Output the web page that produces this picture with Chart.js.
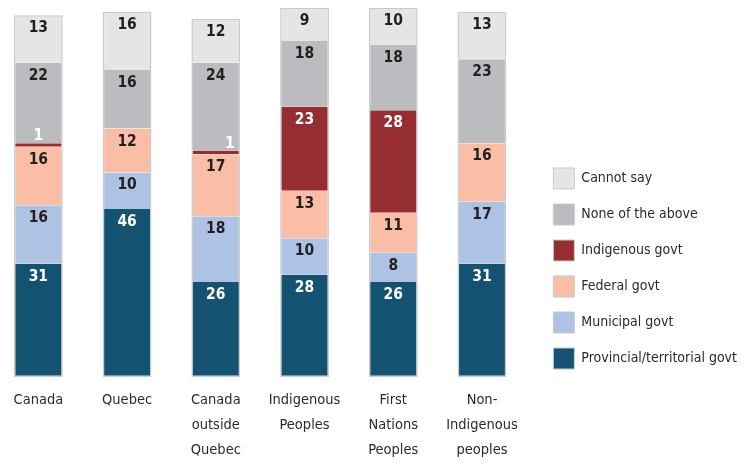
<!DOCTYPE html>
<html>
<head>
<meta charset="utf-8">
<script src="https://cdn.jsdelivr.net/npm/chart.js@4/dist/chart.umd.min.js"></script>
<style>
  html, body { margin: 0; padding: 0; background: #fff; overflow: hidden; }
  /* canvas starts a few px left of the page so the first bar sits near the edge */
  #wrap { width: 753px; height: 464px; position: absolute; left: -6px; top: 0; }
</style>
</head>
<body>
<div id="wrap"><canvas id="chart"></canvas></div>
<script>
// Categories (multi-line tick labels)
const categories = [
  ['Canada'],
  ['Quebec'],
  ['Canada', 'outside', 'Quebec'],
  ['Indigenous', 'Peoples'],
  ['First', 'Nations', 'Peoples'],
  ['Non-', 'Indigenous', 'peoples']
];

// Series values (%), bottom to top of each stack
const provincial = [31, 46, 26, 28, 26, 31];
const municipal  = [16, 10, 18, 10, 8, 17];
const federal    = [16, 12, 17, 13, 11, 16];
const indigenous = [1, 0, 1, 23, 28, 0];
const noneAbove  = [22, 16, 24, 18, 18, 23];
const cannotSay  = [13, 16, 12, 9, 10, 13];

const FONT = '"DejaVu Sans Condensed", "DejaVu Sans", sans-serif';
const EDGE = '#c9cacc';
const LEGEND_SIZE = 14;

// Work out how wide the legend text is so the legend sits where it should
const probe = document.createElement('canvas').getContext('2d');
probe.font = LEGEND_SIZE + 'px ' + FONT;
const longest = probe.measureText('Provincial/territorial govt').width;
const legendWidth = 15 + 21 + LEGEND_SIZE / 2 + longest + 10;

function series(label, data, color, extra) {
  return Object.assign({
    label: label,
    data: data,
    backgroundColor: color,
    borderColor: EDGE,
    borderWidth: { left: 1.5, right: 1.5, top: 0, bottom: 0 },
    borderSkipped: false,
    barPercentage: 0.55,
    categoryPercentage: 1
  }, extra || {});
}

const datasets = [
  series('Provincial/territorial govt', provincial, '#135270', { borderWidth: { left: 1.5, right: 1.5, top: 0, bottom: 1.5 } }),
  series('Municipal govt', municipal, '#aec3e3'),
  series('Federal govt', federal, '#f9bea5'),
  series('Indigenous govt', indigenous, '#962d33'),
  series('None of the above', noneAbove, '#bbbcbf'),
  series('Cannot say', cannotSay, '#e4e5e7', { borderWidth: { left: 1.5, right: 1.5, top: 1.5, bottom: 0 } })
];

// White labels on the dark segments
const lightText = ['Provincial/territorial govt', 'Indigenous govt'];

// Values drawn near the top of every segment
const segmentLabels = {
  id: 'segmentLabels',
  afterDatasetsDraw(chart) {
    const ctx = chart.ctx;
    ctx.save();
    ctx.font = 'bold 15.5px ' + FONT;
    ctx.textAlign = 'center';
    ctx.textBaseline = 'middle';
    chart.data.datasets.forEach((ds, i) => {
      const meta = chart.getDatasetMeta(i);
      meta.data.forEach((bar, j) => {
        const v = ds.data[j];
        if (!v) return;
        const p = bar.getProps(['x', 'y', 'base'], true);
        const top = Math.min(p.y, p.base);
        if (v < 3) {
          // thin slice: the number sits just above it
          ctx.fillStyle = '#ffffff';
          ctx.fillText(String(v), p.x + (j === 2 ? 14 : 0), top - 7);
        } else {
          ctx.fillStyle = lightText.includes(ds.label) ? '#ffffff' : '#231f20';
          ctx.fillText(String(v), p.x, top + 13);
        }
      });
    });
    ctx.restore();
  }
};

new Chart(document.getElementById('chart'), {
  type: 'bar',
  data: { labels: categories, datasets: datasets },
  plugins: [segmentLabels],
  options: {
    responsive: true,
    maintainAspectRatio: false,
    animation: false,
    layout: { padding: { top: 8, left: 0, right: Math.max(0, 207 - legendWidth), bottom: 0 } },
    plugins: {
      title: { display: false },
      tooltip: { enabled: false },
      legend: {
        position: 'right',
        align: 'end',
        fullSize: false,
        reverse: true,
        maxWidth: 400,
        labels: {
          boxWidth: 21,
          boxHeight: 21,
          padding: 15,
          color: '#2b2b2b',
          font: { family: FONT, size: LEGEND_SIZE },
          generateLabels(chart) {
            return chart.data.datasets.map((ds, i) => ({
              text: ds.label,
              fillStyle: ds.backgroundColor,
              strokeStyle: EDGE,
              lineWidth: 1,
              fontColor: '#2b2b2b',
              hidden: false,
              datasetIndex: i
            }));
          }
        }
      }
    },
    scales: {
      x: {
        stacked: true,
        grid: { display: false, drawTicks: false },
        border: { display: false },
        ticks: {
          padding: 4,
          color: '#2b2b2b',
          maxRotation: 0,
          autoSkip: false,
          font: { family: FONT, size: 14.5, lineHeight: '25px' }
        },
        afterFit(scale) { scale.height = 80; }
      },
      y: {
        stacked: true,
        position: 'right',
        min: -1.9,
        max: 101,
        grid: { display: false },
        border: { display: false },
        ticks: { display: false },
        afterFit(scale) { scale.width = 12; }
      }
    }
  }
});
</script>
</body>
</html>
